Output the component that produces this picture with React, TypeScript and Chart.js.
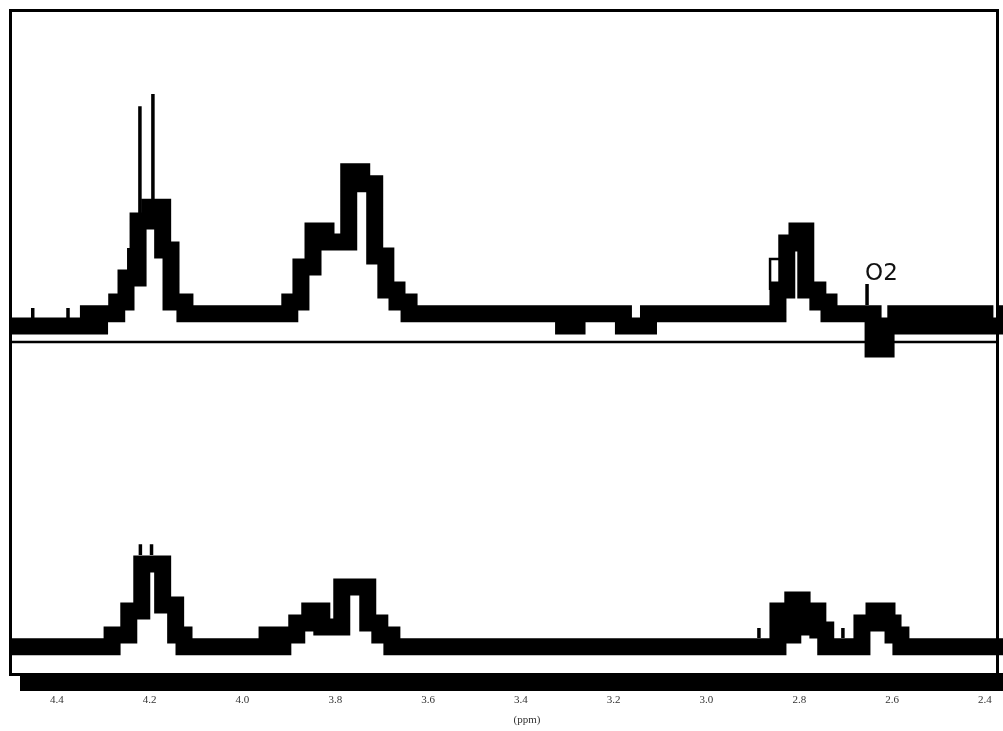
import React, { useEffect, useRef } from 'react';
import { Chart, registerables } from 'chart.js';

Chart.register(...registerables);

// x axis (chemical shift, ppm)
const tickValues = [4.4, 4.2, 4.0, 3.8, 3.6, 3.4, 3.2, 3.0, 2.8, 2.6, 2.4];
const xMinPpm = 2.361;
const xMaxPpm = 4.501;
const xTitle = '(ppm)';
const xTitlePpm = 3.387;

// intensity range of each panel
const yMin = -8.8;
const yMax = 91.2;

// annotation
const peakLabel = 'O2';
const peakLabelPpm = 2.654;
const peakLabelIntensity = 10.1;

// upper spectrum (step trace)
const topPpm = [4.501, 4.332, 4.320, 4.308, 4.271, 4.251, 4.225, 4.200, 4.172, 4.154, 4.124,
  3.898, 3.874, 3.848, 3.820, 3.771, 3.743, 3.715, 3.691, 3.667, 3.641,
  3.308, 3.279, 3.179, 3.125,
  2.846, 2.827, 2.805, 2.786, 2.760, 2.736,
  2.641, 2.613, 2.592, 2.572, 2.551, 2.529, 2.508, 2.486, 2.465, 2.443, 2.422, 2.400, 2.357, 2.346];
const topIntensity = [-3.7, 0, -3.7, 0, 3.5, 10.7, 27.8, 32.0, 19.1, 3.5, 0,
  3.5, 14.0, 24.8, 21.5, 42.6, 39.0, 17.3, 7.1, 3.5, 0,
  -3.7, 0, -3.7, 0,
  7.1, 21.2, 24.8, 7.1, 3.5, 0,
  -10.6, -3.7, 0, -3.7, 0, -3.7, 0, -3.7, 0, -3.7, 0, -3.7, 0, 0];

// upper spectrum sharp lines
const topSpikePpm = [4.452, 4.376, 4.245, 4.221, 4.193, 2.654];
const topSpikeBase = [-1.9, -1.9, 13.1, 27.8, 32.0, 2.6];
const topSpikeTip = [1.7, 1.7, 19.7, 62.3, 66.0, 8.9];

// upper spectrum shoulder outline
const topShoulderPpm = [2.863, 2.863, 2.838];
const topShoulderIntensity = [7.1, 16.4, 16.4];

// lower spectrum (step trace)
const botPpm = [4.501, 4.281, 4.245, 4.217, 4.172, 4.144, 4.126,
  3.947, 3.930, 3.913, 3.883, 3.855, 3.829, 3.786, 3.730, 3.704, 3.678,
  2.846, 2.829, 2.814, 2.794, 2.775, 2.760, 2.743,
  2.665, 2.639, 2.611, 2.598, 2.581, 2.346];
const botIntensity = [0, 3.5, 10.7, 24.8, 12.5, 3.5, 0,
  3.5, 0, 3.5, 7.1, 10.7, 5.9, 17.9, 7.1, 3.5, 0,
  10.7, 3.5, 14.0, 5.9, 10.7, 5.0, 0,
  7.1, 10.7, 7.1, 3.5, 0, 0];

// lower spectrum sharp lines
const botSpikePpm = [4.220, 4.196, 2.887, 2.706];
const botSpikeBase = [27.5, 27.5, 2.6, 2.6];
const botSpikeTip = [30.8, 30.8, 5.6, 5.6];

const stepTrace = (ppm: number[], vals: number[], axis: string) => ({
  data: ppm.map((x, i) => ({ x, y: vals[i] })),
  yAxisID: axis,
  borderColor: '#000',
  backgroundColor: '#000',
  borderWidth: 17,
  stepped: true,
  pointRadius: 0,
  fill: false,
  clip: false,
});

const spikeTrace = (ppm: number[], base: number[], tip: number[], axis: string) => ({
  data: ppm.flatMap((x, i) => [{ x, y: base[i] }, { x, y: tip[i] }, { x, y: null }]),
  yAxisID: axis,
  borderColor: '#000',
  borderWidth: 3.5,
  pointRadius: 0,
  spanGaps: false,
  fill: false,
  clip: false,
});

const pathTrace = (ppm: number[], vals: number[], axis: string) => ({
  data: ppm.map((x, i) => ({ x, y: vals[i] })),
  yAxisID: axis,
  borderColor: '#000',
  borderWidth: 2.5,
  pointRadius: 0,
  fill: false,
  clip: false,
});

const framePlugin = {
  id: 'nmrFrame',
  beforeDatasetsDraw(chart: any) {
    const { ctx, chartArea: a, scales } = chart;
    const right = a.right - 5.5;
    ctx.save();
    ctx.strokeStyle = '#000';
    ctx.lineWidth = 3;
    ctx.strokeRect(a.left + 0.5, a.top + 0.5, right - a.left - 0.5, a.bottom - 1.5 - (a.top + 0.5));
    ctx.lineWidth = 2.5;
    const sepY = scales.yTop.bottom - 1;
    ctx.beginPath();
    ctx.moveTo(a.left, sepY);
    ctx.lineTo(right, sepY);
    ctx.stroke();
    ctx.restore();
  },
  afterDatasetsDraw(chart: any) {
    const { ctx, chartArea: a, scales } = chart;
    ctx.save();
    ctx.fillStyle = '#000';
    ctx.fillRect(a.left + 10, a.bottom - 3, a.right - a.left - 10, 18);
    ctx.font = '23px "DejaVu Sans"';
    ctx.textAlign = 'left';
    ctx.textBaseline = 'alphabetic';
    ctx.fillStyle = '#111';
    ctx.fillText(
      peakLabel,
      scales.x.getPixelForValue(peakLabelPpm) - 2,
      scales.yTop.getPixelForValue(peakLabelIntensity)
    );
    ctx.font = '11px "Liberation Serif", serif';
    ctx.textAlign = 'center';
    ctx.textBaseline = 'middle';
    ctx.fillStyle = '#333';
    ctx.fillText(xTitle, scales.x.getPixelForValue(xTitlePpm), scales.x.bottom - 11);
    ctx.restore();
  },
};

const hiddenY = (stack: string) => ({
  type: 'linear' as const,
  position: 'left' as const,
  stack,
  stackWeight: 1,
  min: yMin,
  max: yMax,
  display: true,
  grid: { display: false, drawTicks: false },
  border: { display: false },
  ticks: { display: false },
  afterFit: (s: any) => { s.width = 0; s.paddingTop = 0; s.paddingBottom = 0; },
});

export default function App() {
  const canvasRef = useRef<HTMLCanvasElement | null>(null);

  useEffect(() => {
    const canvas = canvasRef.current;
    if (!canvas) return;
    const chart = new Chart(canvas, {
      type: 'line',
      data: {
        datasets: [
          stepTrace(topPpm, topIntensity, 'yTop'),
          spikeTrace(topSpikePpm, topSpikeBase, topSpikeTip, 'yTop'),
          pathTrace(topShoulderPpm, topShoulderIntensity, 'yTop'),
          stepTrace(botPpm, botIntensity, 'yBot'),
          spikeTrace(botSpikePpm, botSpikeBase, botSpikeTip, 'yBot'),
        ] as any,
      },
      options: {
        animation: false,
        responsive: false,
        maintainAspectRatio: false,
        devicePixelRatio: 1,
        layout: { autoPadding: false, padding: { left: 10, top: 10, right: 0, bottom: 0 } },
        plugins: { legend: { display: false }, tooltip: { enabled: false } },
        scales: {
          x: {
            type: 'linear',
            reverse: true,
            min: xMinPpm,
            max: xMaxPpm,
            grid: { display: false, drawTicks: false },
            border: { display: false },
            afterBuildTicks: (s: any) => { s.ticks = tickValues.map((v) => ({ value: v })); },
            afterFit: (s: any) => { s.height = 55; s.paddingLeft = 0; s.paddingRight = 0; },
            ticks: {
              padding: 18,
              autoSkip: false,
              maxRotation: 0,
              color: '#333',
              font: { family: '"Liberation Serif", serif', size: 11 },
              callback: (v: any) => Number(v).toFixed(1),
            },
            title: { display: false },
          },
          yBot: hiddenY('panels'),
          yTop: hiddenY('panels'),
        } as any,
      },
      plugins: [framePlugin],
    });
    return () => chart.destroy();
  }, []);

  return (
    <div style={{ position: 'fixed', left: 0, top: 0, width: 1003, height: 731, background: '#fff' }}>
      <canvas ref={canvasRef} width={1003} height={731} style={{ display: 'block', width: 1003, height: 731 }} />
    </div>
  );
}
